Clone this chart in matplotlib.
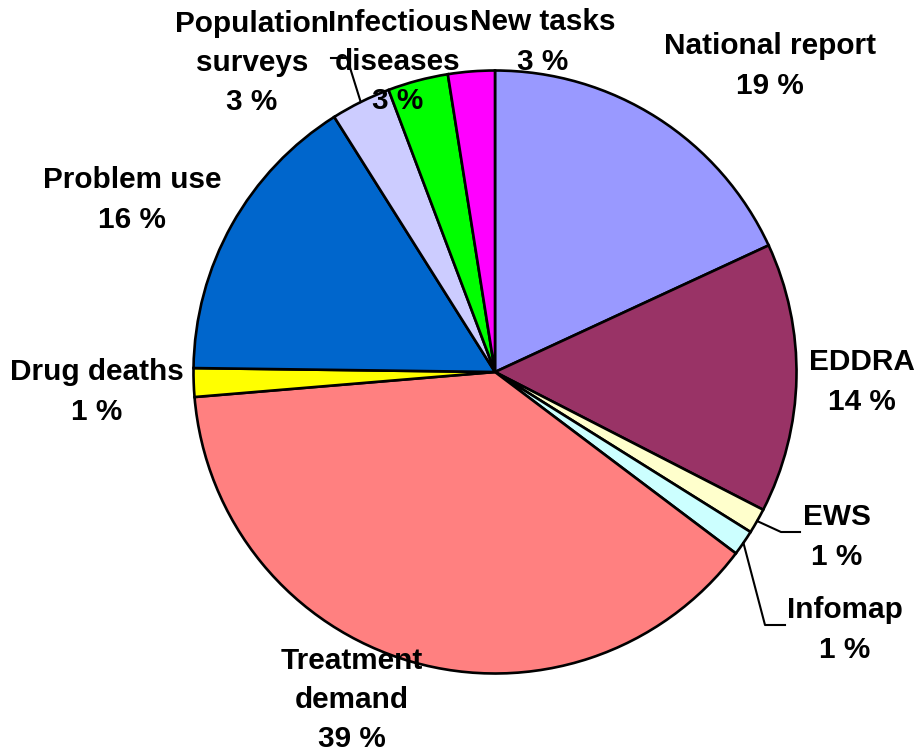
import numpy as np
import matplotlib.pyplot as plt

# slice data, clockwise from 12 o'clock
labels = ["National report", "EDDRA", "EWS", "Infomap", "Treatment\ndemand",
          "Drug deaths", "Problem use", "Population\nsurveys", "Infectious\ndiseases",
          "New tasks"]
values = [18.1, 14.45, 1.35, 1.37, 38.4, 1.53, 15.84, 3.21, 3.24, 2.5]
pct_labels = ["19 %", "14 %", "1 %", "1 %", "39 %", "1 %", "16 %", "3 %", "3 %", "3 %"]
colors = ["#9999FF", "#993366", "#FFFFCC", "#CCFFFF", "#FF8080",
          "#FFFF00", "#0066CC", "#CCCCFF", "#00FF00", "#FF00FF"]

W, H = 915, 751
CX, CY, R = 495, 372, 301.5


def px(x, y):
    # pixel position -> data coords (pie radius = 1)
    return (x - CX) / R, (CY - y) / R


fig = plt.figure(figsize=(W / 100, H / 100), dpi=100)
ax = fig.add_axes([0, 0, 1, 1])

wedges, _ = ax.pie(values, colors=colors, startangle=90, counterclock=False,
                   radius=1, wedgeprops=dict(edgecolor="black", linewidth=1.9))

ax.set_xlim(-CX / R, (W - CX) / R)
ax.set_ylim(-(H - CY) / R, CY / R)
ax.set_aspect("auto")
ax.axis("off")

# label positions (pixel layout)
label_pos = [(770, 66), (862, 382), (837, 537), (845, 630), (352, 700),
             (97, 392), (132, 200), (252, 63), (398, 62), (543, 42)]

font = dict(family=["Liberation Sans", "DejaVu Sans"], weight="bold", size=21.4)
for lab, pct, pos in zip(labels, pct_labels, label_pos):
    x, y = px(*pos)
    ax.text(x, y, lab + "\n" + pct, ha="center", va="center",
            linespacing=1.52, **font)


def mid_point(i):
    w = wedges[i]
    a = np.deg2rad((w.theta1 + w.theta2) / 2)
    return np.cos(a), np.sin(a)


# leader lines for small slices
leaders = {2: [(781, 532), (800, 532)],
           3: [(765, 625), (785, 625)],
           7: [(347, 58), (331, 58)]}
for i, pts in leaders.items():
    x0, y0 = mid_point(i)
    xs = [x0] + [px(*p)[0] for p in pts]
    ys = [y0] + [px(*p)[1] for p in pts]
    ax.plot(xs, ys, color="black", linewidth=1.5)

fig.savefig("out.png", dpi=100)
